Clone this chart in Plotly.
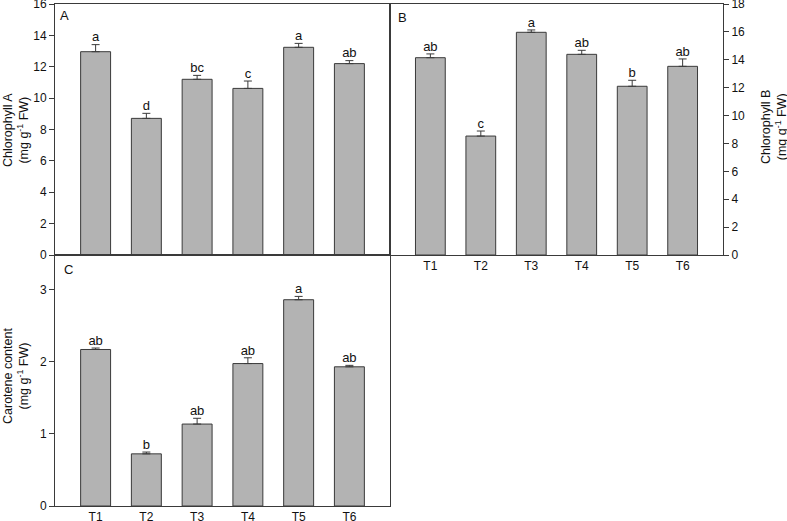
import plotly.graph_objects as go

categories = ["T1", "T2", "T3", "T4", "T5", "T6"]

chl_a = [12.96, 8.71, 11.2, 10.62, 13.24, 12.2]
chl_a_err = [0.45, 0.32, 0.25, 0.47, 0.25, 0.19]
chl_a_letters = ["a", "d", "bc", "c", "a", "ab"]

chl_b = [14.15, 8.53, 15.97, 14.39, 12.1, 13.53]
chl_b_err = [0.27, 0.36, 0.17, 0.29, 0.43, 0.53]
chl_b_letters = ["ab", "c", "a", "ab", "b", "ab"]

carot = [2.17, 0.723, 1.136, 1.975, 2.86, 1.93]
carot_err = [0.02, 0.025, 0.08, 0.08, 0.046, 0.02]
carot_letters = ["ab", "b", "ab", "ab", "a", "ab"]

W, H = 787, 521
FONT = "Liberation Sans, Arial, sans-serif"
BAR = "#b3b3b3"
LINE = "#3a3a3a"
TXT = "#111"

fig = go.Figure()

panels = [
    (chl_a, chl_a_err, chl_a_letters, "x", "y"),
    (chl_b, chl_b_err, chl_b_letters, "x2", "y2"),
    (carot, carot_err, carot_letters, "x3", "y3"),
]
for vals, errs, letters, xa, ya in panels:
    fig.add_trace(go.Bar(
        x=categories, y=vals, xaxis=xa, yaxis=ya, width=0.59,
        marker=dict(color=BAR, line=dict(color=LINE, width=1)),
        error_y=dict(type="data", array=errs, arrayminus=[0] * len(errs),
                     symmetric=False, color=LINE, thickness=1, width=4),
        showlegend=False,
    ))
    fig.add_trace(go.Scatter(
        x=categories, y=[v + e for v, e in zip(vals, errs)],
        xaxis=xa, yaxis=ya, mode="text", text=letters,
        textposition="top center",
        textfont=dict(family=FONT, size=13, color=TXT),
        showlegend=False, hoverinfo="skip",
    ))

def px_x(a, b):
    return [a / W, b / W]

def px_y(top, bottom):
    return [1 - bottom / H, 1 - top / H]

common_x = dict(type="category", range=[-0.8, 5.8], showline=True, mirror=True,
                linecolor=LINE, linewidth=1, ticks="", showgrid=False, zeroline=False,
                automargin=False,
                tickfont=dict(family=FONT, size=12, color=TXT))
common_y = dict(showline=True, mirror=True, linecolor=LINE, linewidth=1,
                ticks="outside", ticklen=5, tickcolor=LINE, showgrid=False,
                zeroline=False, automargin=False, ticklabeloverflow="allow",
                tickfont=dict(family=FONT, size=12, color=TXT))

def label(text, x, y, size=13, angle=0):
    return dict(text=text, xref="paper", yref="paper", x=x / W, y=1 - y / H,
                xanchor="center", yanchor="middle", showarrow=False,
                textangle=angle, font=dict(family=FONT, size=size, color=TXT))

fig.update_layout(
    width=W, height=H, margin=dict(l=0, r=0, t=0, b=0),
    paper_bgcolor="white", plot_bgcolor="white",
    font=dict(family=FONT, color=TXT),
    xaxis=dict(common_x, domain=px_x(55, 390), anchor="y", showticklabels=False),
    yaxis=dict(common_y, domain=px_y(4, 255), anchor="x", range=[0, 16], dtick=2),
    xaxis2=dict(common_x, domain=px_x(390, 723), anchor="y2"),
    yaxis2=dict(common_y, domain=px_y(4, 255), anchor="x2", side="right",
                range=[0, 18], dtick=2),
    xaxis3=dict(common_x, domain=px_x(55, 390), anchor="y3"),
    yaxis3=dict(common_y, domain=px_y(255, 506), anchor="x3", range=[0, 3.48], dtick=1),
    annotations=[
        label("A", 64, 15),
        label("B", 402, 18),
        label("C", 68, 269),
        label("Chlorophyll A<br>(mg g<sup>-1</sup> FW)", 16, 130, 12.5, -90),
        label("Chlorophyll B<br>(mg g<sup>-1</sup> FW)", 774, 127, 12.5, -90),
        label("Carotene content<br>(mg g<sup>-1</sup> FW)", 16, 376, 12.5, -90),
    ],
)

fig.write_html("out.html", config={"displayModeBar": False},
               post_script="document.body.style.margin='0';document.body.style.overflow='hidden';")
